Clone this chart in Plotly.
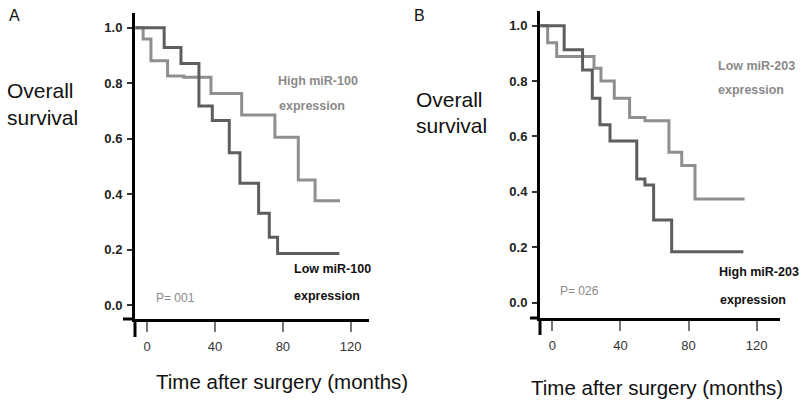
import plotly.graph_objects as go

# ---------------- data ----------------
A_high_t = [-7, -2.4, 2.2, 12, 21.6, 37.6, 55.7, 75.3, 89.1, 99, 113.7]
A_high_s = [1.0, 0.959, 0.881, 0.826, 0.821, 0.763, 0.685, 0.605, 0.451, 0.376, 0.376]
A_low_t = [-7, 10, 19.9, 30.5, 38.4, 48.4, 54.7, 65.7, 72, 76.9, 113.3]
A_low_s = [1.0, 0.929, 0.871, 0.718, 0.665, 0.549, 0.439, 0.331, 0.244, 0.186, 0.186]

B_low_t = [-7, -2.7, 2.6, 24.5, 28.6, 36.4, 45.4, 54.4, 68.5, 76, 83.8, 112.9]
B_low_s = [1.0, 0.938, 0.889, 0.846, 0.800, 0.738, 0.669, 0.657, 0.543, 0.495, 0.374, 0.374]
B_high_t = [-7, 7.0, 17.8, 23.5, 28, 33.9, 49.6, 54.4, 59.5, 70.1, 112.2]
B_high_s = [1.0, 0.913, 0.840, 0.738, 0.642, 0.584, 0.447, 0.425, 0.299, 0.184, 0.184]

x_ticks = [0, 40, 80, 120]
y_ticks = [0.0, 0.2, 0.4, 0.6, 0.8, 1.0]
y_tick_labels = ["0.0", "0.2", "0.4", "0.6", "0.8", "1.0"]

LIGHT = "#8f8f8f"
DARK = "#5e5e5e"
GRAYTXT = "#8a8a8a"
FONT = "Liberation Sans, Arial, sans-serif"

W, H = 800, 413

def px(x):
    return x / W

def py(y):
    return 1 - y / H

fig = go.Figure()

fig.add_trace(go.Scatter(x=A_high_t, y=A_high_s, mode="lines", line=dict(shape="hv", color=LIGHT, width=3),
                         xaxis="x", yaxis="y", showlegend=False, hoverinfo="skip"))
fig.add_trace(go.Scatter(x=A_low_t, y=A_low_s, mode="lines", line=dict(shape="hv", color=DARK, width=3),
                         xaxis="x", yaxis="y", showlegend=False, hoverinfo="skip"))
fig.add_trace(go.Scatter(x=B_low_t, y=B_low_s, mode="lines", line=dict(shape="hv", color=LIGHT, width=3),
                         xaxis="x2", yaxis="y2", showlegend=False, hoverinfo="skip"))
fig.add_trace(go.Scatter(x=B_high_t, y=B_high_s, mode="lines", line=dict(shape="hv", color=DARK, width=3),
                         xaxis="x2", yaxis="y2", showlegend=False, hoverinfo="skip"))

# panel geometry (pixels): left, right, top, bottom
pA = dict(l=135, r=369, t=13, b=319)
pB = dict(l=540, r=780, t=11, b=318)

def xax(p, rng, anchor):
    return dict(domain=[px(p["l"]), px(p["r"])], range=rng, anchor=anchor,
                showgrid=False, zeroline=False, showline=True, linecolor="#000", linewidth=3,
                ticks="outside", ticklen=10, tickwidth=2, tickcolor="#777",
                tickvals=x_ticks, ticktext=[str(v) for v in x_ticks],
                tickfont=dict(family=FONT, size=13, color="#333"), ticklabelstandoff=3)

def yax(p, rng, anchor):
    return dict(domain=[py(p["b"]), py(p["t"])], range=rng, anchor=anchor,
                showgrid=False, zeroline=False, showline=True, linecolor="#000", linewidth=3,
                ticks="outside", ticklen=5, tickwidth=2, tickcolor="#333",
                tickvals=y_ticks, ticktext=y_tick_labels,
                tickfont=dict(family=FONT, size=13, color="#222", weight="bold"), ticklabelstandoff=2)

fig.update_layout(
    width=W, height=H, margin=dict(l=0, r=0, t=0, b=0),
    paper_bgcolor="white", plot_bgcolor="white",
    xaxis=xax(pA, [-7.2, 130.8], "y"),
    yaxis=yax(pA, [-0.0505, 1.053], "x"),
    xaxis2=xax(pB, [-7.2, 133.7], "y2"),
    yaxis2=yax(pB, [-0.0552, 1.053], "x2"),
)

# axis overshoots (cross-style axes)
shapes = []
for p, ext_l, ext_b in [(pA, 12, 18), (pB, 10, 17)]:
    shapes.append(dict(type="line", xref="paper", yref="paper",
                       x0=px(p["l"] - ext_l), x1=px(p["l"]), y0=py(p["b"]), y1=py(p["b"]),
                       line=dict(color="#000", width=3)))
    shapes.append(dict(type="line", xref="paper", yref="paper",
                       x0=px(p["l"]), x1=px(p["l"]), y0=py(p["b"]), y1=py(p["b"] + ext_b),
                       line=dict(color="#000", width=3)))
fig.update_layout(shapes=shapes)

def ann(text, x, y, size, color="#111", weight="normal"):
    fig.add_annotation(text=text, x=px(x), y=py(y), xref="paper", yref="paper",
                       xanchor="left", yanchor="middle", showarrow=False,
                       font=dict(family=FONT, size=size, color=color, weight=weight))

# Panel A
ann("A", 7, 16, 16)
ann("Overall", 5, 90, 21)
ann("survival", 5, 117, 21)
ann("High miR-100", 276, 81, 12.5, GRAYTXT, weight="bold")
ann("expression", 277, 106, 12.5, GRAYTXT, weight="bold")
ann("Low miR-100", 292, 269, 12.5, "#111", weight="bold")
ann("expression", 292, 296, 12.5, "#111", weight="bold")
ann("P= 001", 154, 298, 12, GRAYTXT)
ann("Time after surgery (months)", 154, 381, 20.5)

# Panel B
ann("B", 412, 16, 16)
ann("Overall", 414, 99, 21)
ann("survival", 414, 125, 21)
ann("Low miR-203", 716, 66, 12.5, GRAYTXT, weight="bold")
ann("expression", 716, 90, 12.5, GRAYTXT, weight="bold")
ann("High miR-203", 717, 272, 12.5, "#111", weight="bold")
ann("expression", 718, 300, 12.5, "#111", weight="bold")
ann("P= 026", 558, 291, 12, GRAYTXT)
ann("Time after surgery (months)", 529, 387, 20.5)

fig.write_html("out.html", config={"displayModeBar": False},
               post_script="document.body.style.margin='0';document.body.style.overflow='hidden';")
